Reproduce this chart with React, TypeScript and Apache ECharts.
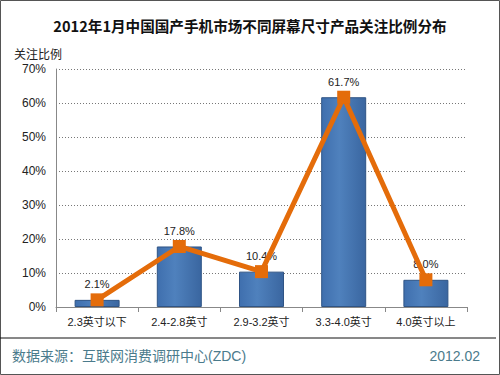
import React, { useEffect, useRef } from "react";
import * as echarts from "echarts";

const categories = ["2.3英寸以下", "2.4-2.8英寸", "2.9-3.2英寸", "3.3-4.0英寸", "4.0英寸以上"];
const barValues = [2.1, 17.8, 10.4, 61.7, 8.0];
const lineValues = [2.1, 17.8, 10.4, 61.7, 8.0];
const yTicks = [0, 10, 20, 30, 40, 50, 60, 70];

export default function App() {
  const ref = useRef<HTMLDivElement>(null);
  useEffect(() => {
    const chart = echarts.init(ref.current!, null, { renderer: "svg" });
    const font = "'Liberation Sans', 'Noto Sans CJK SC', sans-serif";
    chart.setOption({
      animation: false,
      backgroundColor: "#fff",
      textStyle: { fontFamily: font },
      title: {
        text: "2012年1月中国国产手机市场不同屏幕尺寸产品关注比例分布",
        left: "center",
        top: 13,
        textStyle: { fontSize: 14.6, fontWeight: "bold", color: "#111", fontFamily: "'Noto Sans CJK SC', sans-serif" },
      },
      grid: { left: 56, right: 33, top: 69, bottom: 68 },
      xAxis: {
        type: "category",
        data: categories,
        axisLine: { lineStyle: { color: "#888" } },
        axisTick: { show: true, alignWithLabel: false, lineStyle: { color: "#888" } },
        axisLabel: { color: "#222", fontSize: 11, margin: 9 },
      },
      yAxis: {
        type: "value",
        min: 0,
        max: 70,
        interval: 10,
        name: "关注比例",
        nameLocation: "end",
        nameGap: 8,
        nameTextStyle: { color: "#222", fontSize: 12, align: "left", padding: [0, 0, 0, -42] },
        axisLine: { show: true, lineStyle: { color: "#888" } },
        axisTick: { show: false },
        axisLabel: {
          color: "#222",
          fontSize: 12,
          margin: 10,
          formatter: (v: number) => (yTicks.includes(v) ? v + "%" : ""),
        },
        splitLine: { lineStyle: { color: "#777", type: [1, 2] } },
      },
      series: [
        {
          type: "bar",
          data: barValues,
          barWidth: 45,
          itemStyle: {
            color: new echarts.graphic.LinearGradient(0, 0, 1, 0, [
              { offset: 0, color: "#3f6fae" },
              { offset: 0.4, color: "#4f81bd" },
              { offset: 1, color: "#3a66a0" },
            ]),
            borderColor: "#2f5485",
            borderWidth: 1,
          },
          label: {
            show: true,
            position: "top",
            distance: 10,
            color: "#222",
            fontSize: 11,
            formatter: (p: any) => p.value.toFixed(1) + "%",
          },
          z: 2,
        },
        {
          type: "line",
          data: lineValues,
          symbol: "rect",
          symbolSize: 13,
          lineStyle: { color: "#e46c0a", width: 5 },
          itemStyle: { color: "#e46c0a" },
          z: 3,
        },
      ],
      graphic: [
        {
          type: "rect",
          shape: { x: 0.5, y: 0.5, width: 499, height: 374 },
          style: { fill: "none", stroke: "#555", lineWidth: 1 },
          silent: true,
        },
        {
          type: "line",
          shape: { x1: 0, y1: 338, x2: 496, y2: 338 },
          style: { stroke: "#111", lineWidth: 1 },
        },
        {
          type: "text",
          left: 12,
          top: 349,
          style: { text: "数据来源：互联网消费调研中心(ZDC)", fill: "#4b7b8c", fontSize: 14, fontFamily: font },
        },
        {
          type: "text",
          right: 20,
          top: 349,
          style: { text: "2012.02", fill: "#4b7b8c", fontSize: 14, fontFamily: font },
        },
      ],
    });
    return () => chart.dispose();
  }, []);
  return <div ref={ref} style={{ position: "fixed", left: 0, top: 0, width: 500, height: 375 }} />;
}
